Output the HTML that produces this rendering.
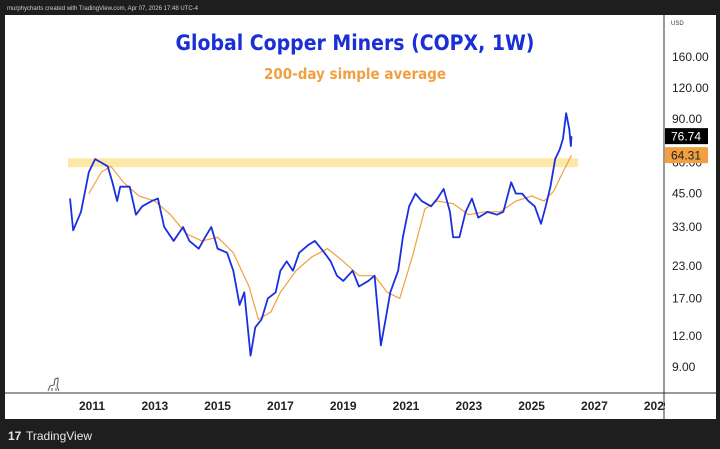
<!DOCTYPE html>
<html><head><meta charset="utf-8"><style>
body{margin:0;width:720px;height:449px;background:#1e1e1e;overflow:hidden;font-family:"Liberation Sans",sans-serif}
#frame{position:absolute;left:0;top:0;width:720px;height:449px}
</style></head><body>
<svg id="frame" width="720" height="449">
<rect x="0" y="0" width="720" height="449" fill="#1e1e1e"/>
<text x="7" y="10" font-size="6" fill="#cfcfcf">murphycharts created with TradingView.com, Apr 07, 2026 17:48 UTC-4</text>
<rect x="5" y="15" width="711" height="404" fill="#ffffff"/>
<line x1="664" y1="15" x2="664" y2="419" stroke="#333" stroke-width="1"/>
<line x1="5" y1="393" x2="716" y2="393" stroke="#333" stroke-width="1"/>
<text x="671" y="25" font-size="6" fill="#333">USD</text>
<text x="355" y="50" font-size="21" font-weight="bold" fill="#1a2fd6" text-anchor="middle" font-family="DejaVu Sans Condensed, Liberation Sans Narrow, sans-serif">Global Copper Miners (COPX, 1W)</text>
<text x="355" y="79" font-size="15" font-weight="bold" fill="#f0a040" text-anchor="middle" font-family="DejaVu Sans Condensed, Liberation Sans Narrow, sans-serif">200-day simple average</text>
<g id="plot"></g>
<g id="yaxis"></g>
<g id="xaxis"></g>
<path d="M48 391 L50 386 L54 385 L55 379 L58 378 L58 382 L57 386 L59 391 M52 391 L52 388 M56 391 L56 388" fill="none" stroke="#555" stroke-width="1"/>
<text x="8" y="440" font-size="12" font-weight="bold" fill="#e8e8e8">17</text>
<text x="26" y="440" font-size="12" fill="#e8e8e8">TradingView</text>
</svg>
<script>
const yTicks=[160,120,90,60,45,33,23,17,12,9];
const xTicks=[2011,2013,2015,2017,2019,2021,2023,2025,2027,2029];
const priceT=[2010.3,2010.4,2010.65,2010.9,2011.1,2011.3,2011.5,2011.65,2011.8,2011.9,2012.2,2012.4,2012.6,2012.9,2013.1,2013.3,2013.6,2013.9,2014.1,2014.4,2014.6,2014.8,2015.0,2015.3,2015.5,2015.7,2015.85,2016.05,2016.2,2016.4,2016.6,2016.85,2017.0,2017.2,2017.4,2017.6,2017.9,2018.1,2018.4,2018.6,2018.8,2019.0,2019.3,2019.5,2019.8,2020.0,2020.2,2020.35,2020.5,2020.75,2020.9,2021.1,2021.3,2021.5,2021.8,2022.0,2022.2,2022.4,2022.5,2022.7,2022.9,2023.1,2023.3,2023.6,2023.9,2024.1,2024.35,2024.5,2024.7,2024.9,2025.1,2025.3,2025.45,2025.6,2025.75,2025.9,2026.0,2026.1,2026.2,2026.25,2026.27];
const priceV=[43,32,38,55,62,60,58,50,42,48,48,37,40,42,43,33,29,33,29,27,30,33,27,26,22,16,18,10,13,14,17,18,22,24,22,26,28,29,26,24,21,20,22,19,20,21,11,14,18,22,30,40,45,42,40,43,47,38,30,30,38,43,36,38,37,38,50,45,45,42,40,34,40,48,62,68,75,95,82,70,76.74];
const maT=[2010.9,2011.3,2011.6,2012.0,2012.5,2013.0,2013.5,2014.0,2014.5,2015.0,2015.5,2016.0,2016.3,2016.7,2017.0,2017.5,2018.0,2018.5,2019.0,2019.5,2020.0,2020.4,2020.8,2021.2,2021.6,2022.0,2022.5,2023.0,2023.5,2024.0,2024.5,2025.0,2025.4,2025.7,2026.0,2026.27];
const maV=[45,55,58,50,44,42,37,31,29,30,26,19,14,15,18,22,25,27,24,21,21,18,17,25,39,42,41,37,38,38,42,44,42,46,55,64.31];
const lastPrice=76.74, lastMA=64.31;
const ns='http://www.w3.org/2000/svg';
const X=t=>92+(t-2011)*31.4;
const Y=v=>57+(Math.log(160)-Math.log(v))*107.7;
function mk(tag,a,p){const e=document.createElementNS(ns,tag);for(const k in a)e.setAttribute(k,a[k]);p.appendChild(e);return e;}
const plot=document.getElementById('plot'),ya=document.getElementById('yaxis'),xa=document.getElementById('xaxis');
const band=mk('rect',{x:68,y:Y(62.5),width:510,height:Y(57.5)-Y(62.5),fill:'#fde8a8'},plot);


const ma=mk('polyline',{points:maT.map((t,i)=>X(t)+','+Y(maV[i])).join(' '),fill:'none',stroke:'#f0a040','stroke-width':1.2},plot);


const pl=mk('polyline',{points:priceT.map((t,i)=>X(t)+','+Y(priceV[i])).join(' '),fill:'none',stroke:'#1a2fe0','stroke-width':1.8,'stroke-linejoin':'round'},plot);


yTicks.forEach(v=>{const t=mk('text',{x:672,y:Y(v)+4,'font-size':12,fill:'#222'},ya);t.textContent=v.toFixed(2);

});
[[lastPrice,'#000','#fff','last-price-label'],[lastMA,'#f0a040','#222','ma-value-label']].forEach(([v,bg,fg,n])=>{
const g=mk('g',{},ya);


mk('rect',{x:665,y:Y(v)-8,width:43,height:16,fill:bg},g);
const t=mk('text',{x:671,y:Y(v)+4.5,'font-size':12,fill:fg},g);t.textContent=v.toFixed(2);});
xTicks.forEach(y=>{const t=mk('text',{x:X(y),y:410,'font-size':12,'font-weight':'bold',fill:'#222','text-anchor':'middle'},xa);t.textContent=y;

});
mk('rect',{x:665,y:394,width:51,height:24,fill:'#fff'},xa);
</script>
</body></html>
